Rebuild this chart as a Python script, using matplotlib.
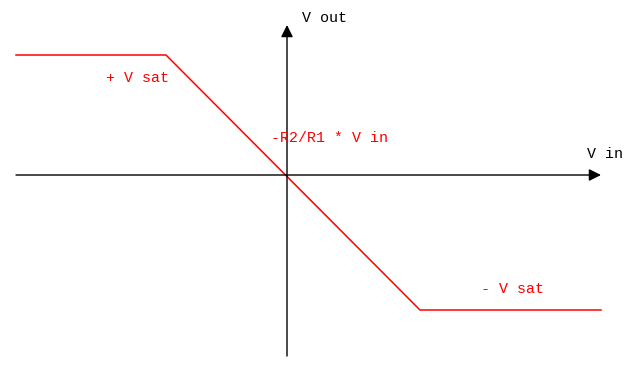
import matplotlib
matplotlib.use("Agg")
import matplotlib.pyplot as plt

# Transfer characteristic (pixel-like units, origin at axes crossing)
vin = [-271, -121, 133, 314]
vout = [120, 120, -135, -135]

x_axis = [-271, 314]
y_axis = [-181, 150]

labels = ["V out", "V in", "+ V sat", "-R2/R1 * V in", "- V sat"]

fig = plt.figure(figsize=(6.37, 3.72), dpi=100)
ax = fig.add_axes([0, 0, 1, 1])
ax.set_xlim(-287, 350)
ax.set_ylim(-197, 175)
ax.axis("off")

font = dict(family=["Liberation Mono", "DejaVu Sans Mono"], fontsize=10.8)

ax.annotate("", xy=(x_axis[1], 0), xytext=(x_axis[0], 0),
            arrowprops=dict(arrowstyle="-|>", color="black", lw=1.0,
                            mutation_scale=18, shrinkA=0, shrinkB=0))
ax.annotate("", xy=(0, y_axis[1]), xytext=(0, y_axis[0]),
            arrowprops=dict(arrowstyle="-|>", color="black", lw=1.0,
                            mutation_scale=18, shrinkA=0, shrinkB=0))

ax.plot(vin, vout, color="red", lw=1.1)

ax.text(15, 157, labels[0], color="black", ha="left", va="center", **font)
ax.text(300, 21, labels[1], color="black", ha="left", va="center", **font)
ax.text(-181, 97, labels[2], color="red", ha="left", va="center", **font)
ax.text(-16, 37, labels[3], color="red", ha="left", va="center", **font)
ax.text(194, -114, labels[4], color="red", ha="left", va="center", **font)

fig.savefig("out.png", dpi=100)
